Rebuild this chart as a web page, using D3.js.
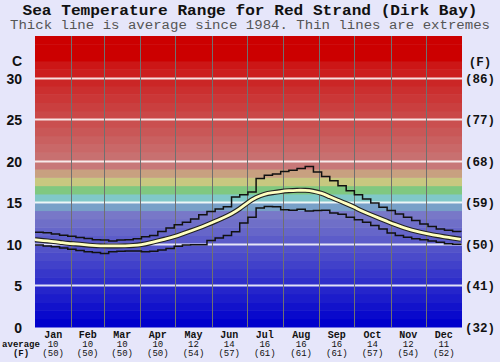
<!DOCTYPE html>
<html>
<head>
<meta charset="utf-8">
<title>Sea Temperature Range</title>
<script src="https://d3js.org/d3.v7.min.js"></script>
<style>
  body { margin: 0; background: #e6e6fa; }
  svg { display: block; }
  .mono { font-family: "Liberation Mono", "Courier New", monospace; }
  .sans { font-family: "Liberation Sans", Arial, sans-serif; }
</style>
</head>
<body>
<svg id="chart" width="500" height="362"></svg>
<script>
// month labels and monthly averages
const months = ["Jan","Feb","Mar","Apr","May","Jun","Jul","Aug","Sep","Oct","Nov","Dec"];
const monthDays = [31,28,31,30,31,30,31,31,30,31,30,31];
const avgC = [10,10,10,10,12,14,16,16,16,14,12,11];
const avgF = [50,50,50,50,54,57,61,61,61,57,54,52];

// weekly readings (day = week * 7)
const avgLine = [10.5,10.4,10.3,10.2,10.05,10.0,9.9,9.8,9.75,9.75,9.75,9.75,9.8,9.9,10.1,10.35,
  10.6,10.85,11.2,11.55,11.9,12.3,12.7,13.15,13.6,14.2,15.0,15.6,16.0,16.15,16.3,16.4,16.45,
  16.45,16.35,16.1,15.65,15.25,14.85,14.4,13.9,13.5,13.1,12.7,12.3,11.95,11.65,11.4,11.2,11.0,
  10.85,10.7,10.55];
const maxLine = [11.4,11.35,11.2,11.05,10.9,10.75,10.65,10.5,10.45,10.35,10.45,10.5,10.6,10.85,
  11.0,11.5,11.9,12.3,12.6,13.0,13.5,13.9,14.2,14.45,15.65,15.9,16.25,17.85,18.25,18.4,18.7,
  18.85,19.05,19.3,18.65,18.1,17.6,17.0,16.4,15.9,15.4,14.9,14.4,14.0,13.6,13.2,12.8,12.4,
  12.1,11.8,11.65,11.5,11.45];
const minLine = [9.85,9.75,9.65,9.5,9.35,9.2,9.05,8.95,8.85,9.05,9.1,9.15,9.15,9.05,9.1,9.25,
  9.45,9.7,9.85,9.9,9.9,10.4,10.7,11.0,11.45,12.5,13.2,14.3,14.5,14.45,14.1,14.05,14.15,13.95,
  14.0,14.05,13.7,13.55,13.2,12.9,12.6,12.2,11.8,11.3,11.0,10.8,10.6,10.5,10.35,10.2,10.0,
  9.95,9.85];

const yTicksC = [0,5,10,15,20,25,30];
const yTicksF = ["(32)","(41)","(50)","(59)","(68)","(77)","(86)"];

const svg = d3.select("#chart");
const plot = {left: 35, right: 462, top: 36, bottom: 327};

const x = d3.scaleLinear().domain([0, 365]).range([plot.left, plot.right]);
const y = d3.scaleLinear().domain([0, 35]).range([plot.bottom, plot.top]);

// colour bands, one per degree
function bandColor(d) {
  if (d >= 32) return "rgb(204,0,0)";
  if (d >= 19) return d3.interpolateRgb("rgb(200,120,120)", "rgb(204,22,22)")((d - 19) / 12);
  if (d === 18) return "rgb(200,160,128)";
  if (d === 17) return "rgb(200,200,128)";
  if (d === 16) return "rgb(128,200,128)";
  if (d === 15) return "rgb(128,200,200)";
  if (d === 14) return "rgb(120,160,200)";
  return d3.interpolateRgb("rgb(0,0,204)", "rgb(120,120,200)")(d / 13);
}
const bands = d3.range(0, 35);
svg.append("g").selectAll("rect")
  .data(bands)
  .join("rect")
  .attr("x", plot.left)
  .attr("width", plot.right - plot.left)
  .attr("y", d => y(d + 1))
  .attr("height", d => y(d) - y(d + 1) + 0.5)
  .attr("fill", d => bandColor(d));

// horizontal grid
svg.append("g").selectAll("line")
  .data(yTicksC.filter(d => d > 0))
  .join("line")
  .attr("x1", plot.left).attr("x2", plot.right)
  .attr("y1", d => Math.round(y(d)) + 0.5).attr("y2", d => Math.round(y(d)) + 0.5)
  .attr("stroke", "#fff").attr("stroke-opacity", 0.85).attr("stroke-width", 1.8);

// month boundaries
const cum = d3.cumsum(monthDays);
const starts = [0, ...cum.slice(0, 11)];
svg.append("g").selectAll("line")
  .data(cum.slice(0, 11))
  .join("line")
  .attr("x1", d => Math.round(x(d)) + 0.5).attr("x2", d => Math.round(x(d)) + 0.5)
  .attr("y1", plot.top).attr("y2", plot.bottom)
  .attr("stroke", "#707070").attr("stroke-width", 1);

// lines
const days = avgLine.map((d, i) => Math.min(i * 7, 365));
const stepLine = d3.line().x((d, i) => x(days[i])).y(d => y(d)).curve(d3.curveStepAfter);
const smoothLine = d3.line().x((d, i) => x(days[i])).y(d => y(d)).curve(d3.curveBasis);

[maxLine, minLine].forEach(s => {
  svg.append("path").datum(s)
    .attr("d", stepLine)
    .attr("fill", "none").attr("stroke", "#111").attr("stroke-width", 1.5);
});
svg.append("path").datum(avgLine)
  .attr("d", smoothLine)
  .attr("fill", "none").attr("stroke", "#222").attr("stroke-width", 5);
svg.append("path").datum(avgLine)
  .attr("d", smoothLine)
  .attr("fill", "none").attr("stroke", "#ffffc0").attr("stroke-width", 2.8);

// title
svg.append("text").attr("class", "mono")
  .attr("x", 250).attr("y", 15).attr("text-anchor", "middle")
  .attr("font-size", 14).attr("font-weight", "bold").attr("fill", "#111")
  .attr("textLength", 455).attr("lengthAdjust", "spacingAndGlyphs")
  .text("Sea Temperature Range for Red Strand (Dirk Bay)");
svg.append("text").attr("class", "mono")
  .attr("x", 250).attr("y", 29).attr("text-anchor", "middle")
  .attr("font-size", 12).attr("fill", "#555")
  .attr("textLength", 480).attr("lengthAdjust", "spacingAndGlyphs")
  .text("Thick line is average since 1984. Thin lines are extremes");

// left axis (C)
const left = svg.append("g").attr("class", "sans")
  .attr("font-size", 14).attr("font-weight", "bold").attr("fill", "#111");
left.append("text").attr("x", 22).attr("y", 66).attr("text-anchor", "end").text("C");
left.selectAll(".tc")
  .data(yTicksC)
  .join("text").attr("class", "tc")
  .attr("x", 22).attr("y", d => y(d) + 6).attr("text-anchor", "end")
  .text(d => d);

// right axis (F)
const right = svg.append("g").attr("class", "mono")
  .attr("font-size", 12.5).attr("font-weight", "bold").attr("fill", "#111");
right.append("text").attr("x", 480).attr("y", 66).attr("text-anchor", "middle").text("(F)");
right.selectAll(".tf")
  .data(yTicksF)
  .join("text").attr("class", "tf")
  .attr("x", 480).attr("y", (d, i) => y(yTicksC[i]) + 5).attr("text-anchor", "middle")
  .text(d => d);

// bottom month labels
const bottom = svg.append("g").attr("class", "mono").attr("fill", "#111").attr("text-anchor", "middle");
bottom.selectAll(".m")
  .data(months)
  .join("text").attr("class", "m")
  .attr("x", (d, i) => x(starts[i] + monthDays[i] / 2)).attr("y", 337.5)
  .attr("font-size", 10).attr("font-weight", "bold")
  .text(d => d);
bottom.selectAll(".c")
  .data(avgC)
  .join("text").attr("class", "c")
  .attr("x", (d, i) => x(starts[i] + monthDays[i] / 2)).attr("y", 346.5)
  .attr("font-size", 9)
  .text(d => d);
bottom.selectAll(".f")
  .data(avgF)
  .join("text").attr("class", "f")
  .attr("x", (d, i) => x(starts[i] + monthDays[i] / 2)).attr("y", 356)
  .attr("font-size", 9)
  .text(d => "(" + d + ")");
bottom.append("text").attr("x", 21).attr("y", 346.5).attr("font-size", 9).attr("font-weight", "bold").text("average");
bottom.append("text").attr("x", 21).attr("y", 356).attr("font-size", 9).attr("font-weight", "bold").text("(F)");
</script>
</body>
</html>
